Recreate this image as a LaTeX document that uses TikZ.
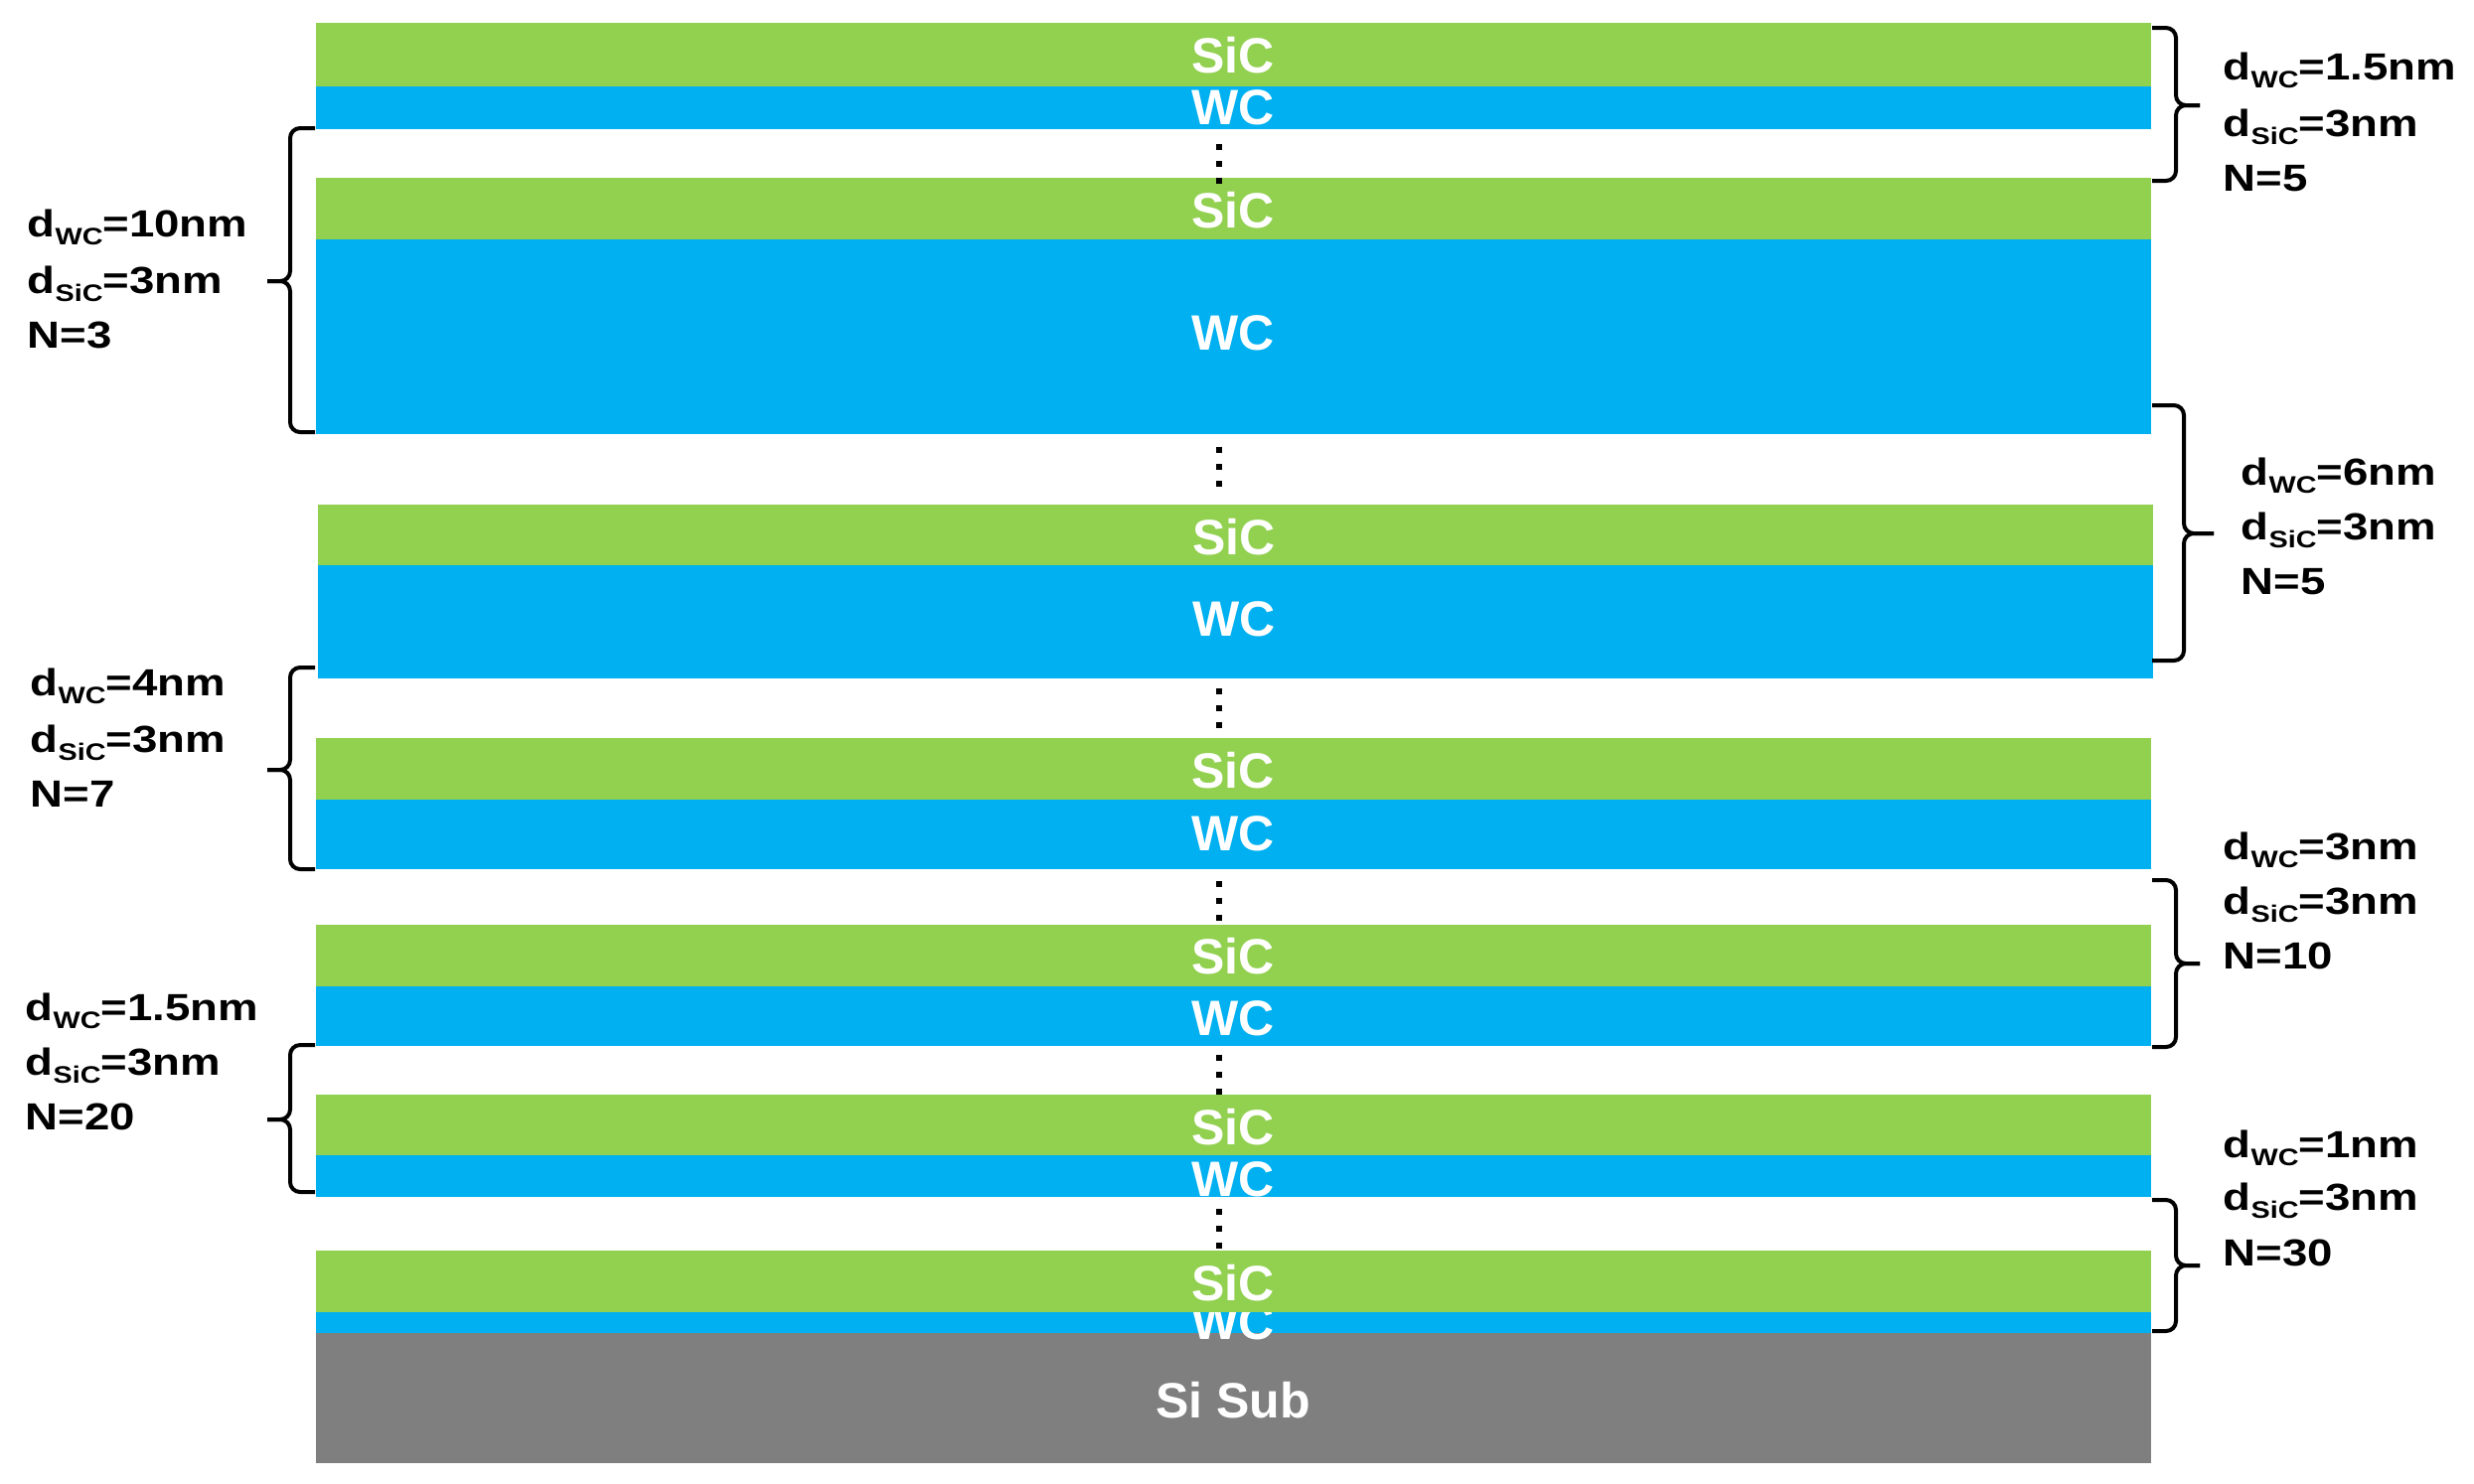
\documentclass[tikz,border=0pt]{standalone}
\usepackage{fontspec}
\setmainfont{Liberation Sans}
\newfontfamily\sidefont[FakeStretch=1.2]{Liberation Sans}
\definecolor{sicgreen}{HTML}{92D050}
\definecolor{wcblue}{HTML}{00B0F0}
\definecolor{subgray}{HTML}{7F7F7F}
\newcommand{\dsub}[1]{\raisebox{-2pt}{\fontsize{6}{6}\selectfont #1}}
\newcommand{\mybrace}[6]{%
  \draw[brc] (#1,#4) -- (#2,#4) -- (#2,#6) -- (#3,#6);
  \draw[brc] (#1,#5) -- (#2,#5) -- (#2,#6) -- (#3,#6);}
\begin{document}
\begin{tikzpicture}[x=0.25pt,y=-0.25pt,
  sic/.style={fill=sicgreen},
  wc/.style={fill=wcblue},
  lbl/.style={anchor=base,text=white,inner sep=0,font=\fontsize{12.5}{14}\selectfont\bfseries},
  side/.style={anchor=base west,inner sep=0,font=\sidefont\fontsize{9.5}{10}\selectfont\bfseries},
  brc/.style={line width=1pt,rounded corners=2.5pt},
  dotcol/.style={line width=1.5pt,dash pattern=on 1.5pt off 2.75pt}
]
\fill[white] (0,0) rectangle (2490,1493);
\useasboundingbox (0,0) rectangle (2490,1493);

% stack 1
\fill[sic] (318,23) rectangle (2165,87);
\fill[wc] (318,87) rectangle (2165,130);
\node[lbl] (s1) at (1241,73) {SiC};
\node[lbl] (w1) at (1241,125) {WC};
% stack 2
\fill[sic] (318,179) rectangle (2165,241);
\fill[wc] (318,241) rectangle (2165,437);
\node[lbl] (s2) at (1241,229) {SiC};
\node[lbl] (w2) at (1241,352) {WC};
% stack 3
\fill[sic] (320,508) rectangle (2167,569);
\fill[wc] (320,569) rectangle (2167,683);
\node[lbl] (s3) at (1242,558) {SiC};
\node[lbl] (w3) at (1242,640) {WC};
% stack 4
\fill[sic] (318,743) rectangle (2165,805);
\fill[wc] (318,805) rectangle (2165,875);
\node[lbl] (s4) at (1241,793) {SiC};
\node[lbl] (w4) at (1241,856) {WC};
% stack 5
\fill[sic] (318,931) rectangle (2165,993);
\fill[wc] (318,993) rectangle (2165,1053);
\node[lbl] (s5) at (1241,980) {SiC};
\node[lbl] (w5) at (1241,1042) {WC};
% stack 6
\fill[sic] (318,1102) rectangle (2165,1163);
\fill[wc] (318,1163) rectangle (2165,1205);
\node[lbl] (s6) at (1241,1152) {SiC};
\node[lbl] (w6) at (1241,1204) {WC};
% stack 7 + substrate
\fill[subgray] (318,1342) rectangle (2165,1473);
\fill[wc] (318,1321) rectangle (2165,1342);
\node[lbl] (w7) at (1241,1348) {WC};
\fill[sic] (318,1259) rectangle (2165,1321);
\node[lbl] (s7) at (1241,1309) {SiC};
\node[lbl] (sub) at (1241,1427) {Si Sub};

% dots
\draw[dotcol] (1227,145) -- (1227,185);
\draw[dotcol] (1227,450) -- (1227,490);
\draw[dotcol] (1227,693) -- (1227,733);
\draw[dotcol] (1227,887) -- (1227,927);
\draw[dotcol] (1227,1062) -- (1227,1102);
\draw[dotcol] (1227,1217) -- (1227,1257);

% left braces
\mybrace{317}{292}{269}{129}{435}{283}
\mybrace{317}{292}{269}{672}{875}{775}
\mybrace{317}{292}{269}{1052}{1200}{1127}
% right braces
\mybrace{2166}{2190}{2214}{28}{182}{106}
\mybrace{2166}{2198}{2228}{408}{665}{537}
\mybrace{2166}{2190}{2214}{886}{1054}{970}
\mybrace{2166}{2190}{2214}{1208}{1340}{1274}

% left labels
\node[side] (a1) at (27,238) {d\dsub{WC}=10nm};
\node[side] (a2) at (27,295) {d\dsub{SiC}=3nm};
\node[side] (a3) at (27,350) {N=3};
\node[side] (b1) at (30,700) {d\dsub{WC}=4nm};
\node[side] (b2) at (30,757) {d\dsub{SiC}=3nm};
\node[side] (b3) at (30,812) {N=7};
\node[side] (c1) at (25,1027) {d\dsub{WC}=1.5nm};
\node[side] (c2) at (25,1082) {d\dsub{SiC}=3nm};
\node[side] (c3) at (25,1137) {N=20};
% right labels
\node[side] (e1) at (2237,80) {d\dsub{WC}=1.5nm};
\node[side] (e2) at (2237,137) {d\dsub{SiC}=3nm};
\node[side] (e3) at (2237,192) {N=5};
\node[side] (f1) at (2255,488) {d\dsub{WC}=6nm};
\node[side] (f2) at (2255,543) {d\dsub{SiC}=3nm};
\node[side] (f3) at (2255,598) {N=5};
\node[side] (g1) at (2237,865) {d\dsub{WC}=3nm};
\node[side] (g2) at (2237,920) {d\dsub{SiC}=3nm};
\node[side] (g3) at (2237,975) {N=10};
\node[side] (h1) at (2237,1165) {d\dsub{WC}=1nm};
\node[side] (h2) at (2237,1218) {d\dsub{SiC}=3nm};
\node[side] (h3) at (2237,1274) {N=30};
\end{tikzpicture}
\end{document}
